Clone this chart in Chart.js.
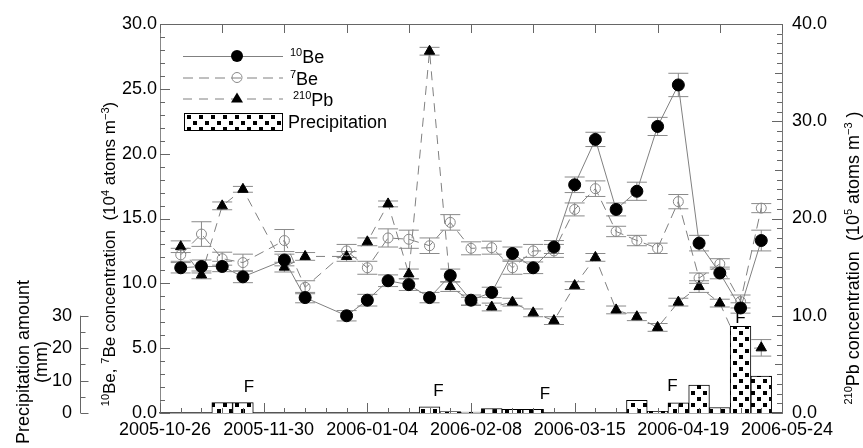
<!DOCTYPE html>
<html lang="en">
<head>
<meta charset="UTF-8">
<title>10Be, 7Be, 210Pb and precipitation</title>
<style>
    body { margin: 0; padding: 0; background: #fff; }
    canvas { display: block; }
</style>
</head>
<body>
<canvas id="chart" width="863" height="448"></canvas>
<script src="https://cdn.jsdelivr.net/npm/chart.js"></script>
<script>
// sampling days, counted from 2005-10-26 (weekly samples)
var sampleDays = [7, 14, 21, 28, 35, 42, 49, 56, 63, 70, 77, 84, 91, 98, 105,
                  112, 119, 126, 133, 140, 147, 154, 161, 168, 175, 182, 189, 196, 203];
var dateLabels = ['2005-10-26', '2005-11-30', '2006-01-04', '2006-02-08',
                  '2006-03-15', '2006-04-19', '2006-05-24'];

// 10Be, 7Be in 10^4 atoms m-3 (left axis)
var be10 = [11.2, 11.3, 11.3, 10.5, null, 11.8, 8.9, null, 7.5, 8.7, 10.2, 9.9, 8.9, 10.6, 8.7,
            9.3, 12.3, 11.2, 12.8, 17.6, 21.1, 15.7, 17.1, 22.1, 25.3, 13.1, 10.8, 8.1, 13.3];
var be10Err = [0.4, 0.5, 0.4, 0.45, null, 0.45, 0.4, null, 0.4, 0.45, 0.45, 0.45, 0.4, 0.5, 0.4,
               0.4, 0.5, 0.45, 0.5, 0.6, 0.55, 0.5, 0.7, 0.7, 0.9, 0.6, 0.45, 0.4, 0.8];
var be7 = [12.2, 13.8, 11.9, 11.6, null, 13.3, 9.7, null, 12.5, 11.2, 13.5, 13.4, 12.9, 14.7, 12.7,
           12.75, 11.2, 12.5, 12.5, 15.7, 17.3, 14.0, 13.3, 12.7, 16.3, 10.4, 11.5, 8.6, 15.8];
var be7Err = [0.5, 0.95, 0.5, 0.65, null, 0.85, 0.5, null, 0.5, 0.5, 0.7, 0.7, 0.6, 0.6, 0.5,
              0.5, 0.5, 0.5, 0.5, 0.5, 0.6, 0.4, 0.4, 0.4, 0.55, 0.4, 0.4, 0.5, 0.35];
// 210Pb in 10^5 atoms m-3 (right axis)
var pb210 = [17.1, 14.2, 21.3, 23.0, null, 15.0, 16.1, null, 16.1, 17.6, 21.5, 14.3, 37.2, 13.0, 11.5,
             10.9, 11.4, 10.3, 9.5, 13.1, 16.0, 10.6, 9.9, 8.8, 11.4, 13.0, 11.3, 6.6, 6.7];
var pb210Err = [0.6, 0.4, 0.4, 0.3, null, 0.5, 0.4, null, 0.5, 0.4, 0.3, 0.5, 0.4, 0.5, 0.4,
                0.4, 0.4, 0.4, 0.4, 0.4, 0.4, 0.4, 0.4, 0.4, 0.4, 0.6, 0.4, 0.4, 0.85];
// precipitation amount, mm
var precip = [null, null, 3.2, 3.2, null, null, null, null, null, null, null, null, 1.9, 0.4, 0.3,
              1.4, 1.1, 1.1, null, null, null, null, 3.9, 0.5, 3.1, 8.6, 1.7, 26.7, 11.4];

// "F" marks (day, height in mm on the precipitation scale)
var fDays = [30, 94, 130, 173, 196];
var fLevels = [8.0, 6.7, 5.8, 8.2, 29.2];

var FONT = '"Liberation Sans", Arial, sans-serif';
Chart.defaults.font.family = FONT;
Chart.defaults.color = '#000';

function toPoints(arr) {
    return sampleDays.map(function (d, i) { return { x: d, y: arr[i] }; });
}

var ctx = document.getElementById('chart').getContext('2d');

function makePattern() {
    var c = document.createElement('canvas');
    c.width = 12; c.height = 12;
    var p = c.getContext('2d');
    p.fillStyle = '#fff';
    p.fillRect(0, 0, 12, 12);
    p.fillStyle = '#000';
    p.fillRect(1, 1, 4, 4);
    p.fillRect(7, 7, 4, 4);
    return ctx.createPattern(c, 'repeat');
}
var dots = makePattern();

// text with superscripts: parts = [[text, isSup], ...]
function richText(c, parts, x, y, size, rotate, align) {
    c.save();
    c.translate(x, y);
    if (rotate) c.rotate(-Math.PI / 2);
    var supSize = Math.round(size * 0.62);
    var total = 0;
    parts.forEach(function (p) {
        c.font = (p[1] ? supSize : size) + 'px ' + FONT;
        total += c.measureText(p[0]).width;
    });
    var cx = align === 'center' ? -total / 2 : 0;
    c.fillStyle = '#000';
    c.textBaseline = 'alphabetic';
    c.textAlign = 'left';
    parts.forEach(function (p) {
        c.font = (p[1] ? supSize : size) + 'px ' + FONT;
        c.fillText(p[0], cx, p[1] ? -size * 0.38 : 0);
        cx += c.measureText(p[0]).width;
    });
    c.restore();
}

function marker(c, style, x, y) {
    c.save();
    c.lineWidth = 1;
    if (style === 'filled') {
        c.fillStyle = '#000';
        c.beginPath(); c.arc(x, y, 6, 0, Math.PI * 2); c.fill();
    } else if (style === 'open') {
        c.strokeStyle = '#888';
        c.beginPath(); c.arc(x, y, 5, 0, Math.PI * 2); c.stroke();
    } else {
        c.fillStyle = '#000';
        c.beginPath();
        c.moveTo(x, y - 6); c.lineTo(x + 6, y + 4); c.lineTo(x - 6, y + 4);
        c.closePath(); c.fill();
    }
    c.restore();
}

var errorBars = {
    id: 'errorBars',
    beforeDatasetsDraw: function (chart) {
        var c = chart.ctx, xs = chart.scales.x;
        var sets = [[be10, be10Err, 'y'], [be7, be7Err, 'y'], [pb210, pb210Err, 'yR']];
        c.save();
        c.strokeStyle = '#8a8a8a';
        c.lineWidth = 1;
        sets.forEach(function (s) {
            var ys = chart.scales[s[2]];
            sampleDays.forEach(function (d, i) {
                if (s[0][i] === null) return;
                var px = xs.getPixelForValue(d);
                var top = ys.getPixelForValue(s[0][i] + s[1][i]);
                var bot = ys.getPixelForValue(s[0][i] - s[1][i]);
                c.beginPath();
                c.moveTo(px, top); c.lineTo(px, bot);
                c.moveTo(px - 10, top); c.lineTo(px + 10, top);
                c.moveTo(px - 10, bot); c.lineTo(px + 10, bot);
                c.stroke();
            });
        });
        c.restore();
    }
};

var decorations = {
    id: 'decorations',
    afterDraw: function (chart) {
        var c = chart.ctx, a = chart.chartArea;
        var xs = chart.scales.x, ys = chart.scales.y, yr = chart.scales.yR, yp = chart.scales.yP;
        var v, len, p;
        c.save();
        c.strokeStyle = '#666';
        c.lineWidth = 1;
        c.beginPath();
        // bottom ticks: weekly minor, 5-weekly major
        for (v = 0; v <= 210; v += 7) {
            p = Math.round(xs.getPixelForValue(v)) + 0.5;
            len = v % 35 === 0 ? 10 : 5;
            c.moveTo(p, a.bottom); c.lineTo(p, a.bottom - len);
        }
        // top ticks
        for (v = 0; v <= 210; v += 21) {
            p = Math.round(xs.getPixelForValue(v)) + 0.5;
            c.moveTo(p, a.top); c.lineTo(p, a.top + 9);
        }
        // left ticks
        for (v = 0; v <= 30; v += 1) {
            p = Math.round(ys.getPixelForValue(v)) + 0.5;
            len = v % 5 === 0 ? 10 : 5;
            c.moveTo(a.left, p); c.lineTo(a.left + len, p);
        }
        // right ticks
        for (v = 0; v <= 40; v += 1) {
            p = Math.round(yr.getPixelForValue(v)) + 0.5;
            len = v % 10 === 0 ? 10 : (v % 5 === 0 ? 7 : 5);
            c.moveTo(a.right, p); c.lineTo(a.right - len, p);
        }
        // precipitation axis
        var px = Math.round(yp.right) + 0.5;
        c.moveTo(px, yp.getPixelForValue(0)); c.lineTo(px, yp.getPixelForValue(30));
        for (v = 0; v <= 30; v += 5) {
            p = Math.round(yp.getPixelForValue(v)) + 0.5;
            len = v % 10 === 0 ? 8 : 5;
            c.moveTo(px, p); c.lineTo(px + len, p);
        }
        c.stroke();

        // "F" marks
        c.fillStyle = '#000';
        c.font = '17px ' + FONT;
        c.textAlign = 'center';
        c.textBaseline = 'middle';
        fDays.forEach(function (d, i) {
            c.fillText('F', xs.getPixelForValue(d), yp.getPixelForValue(fLevels[i]));
        });

        // legend
        var lx0 = a.left + 23, lx1 = a.left + 123, mx = a.left + 77, tx = a.left + 130;
        var rows = [a.top + 32, a.top + 53.5, a.top + 74.5];
        var dashes = [[], [10, 6], [9, 7]];
        var styles = ['filled', 'open', 'tri'];
        var names = [[['10', 1], ['Be', 0]], [['7', 1], ['Be', 0]], [['210', 1], ['Pb', 0]]];
        rows.forEach(function (ry, i) {
            c.save();
            c.strokeStyle = '#808080';
            c.setLineDash(dashes[i]);
            c.beginPath(); c.moveTo(lx0, ry + 0.5); c.lineTo(lx1, ry + 0.5); c.stroke();
            c.restore();
            marker(c, styles[i], mx, ry);
            richText(c, names[i], tx + (i === 2 ? 3 : 0), ry + 7, 18, false, 'left');
        });
        var by = a.top + 89;
        c.fillStyle = dots;
        c.fillRect(lx0 + 1, by, 99, 17);
        c.strokeStyle = '#000';
        c.strokeRect(lx0 + 1.5, by + 0.5, 98, 17);
        richText(c, [['Precipitation', 0]], tx - 2, by + 15, 18, false, 'left');

        // axis titles
        richText(c, [['10', 1], ['Be, ', 0], ['7', 1], ['Be concentration  (10', 0], ['4', 1],
                     [' atoms m', 0], ['\u22123', 1], [')', 0]], 115, 254, 17, true, 'center');
        richText(c, [['210', 1], ['Pb concentration  (10', 0], ['5', 1], [' atoms m', 0],
                     ['\u22123', 1], [' )', 0]], 859, 258, 18, true, 'center');
        richText(c, [['Precipitation amount', 0]], 29, 362, 18, true, 'center');
        richText(c, [['(mm)', 0]], 47, 362, 18, true, 'center');
        c.restore();
    }
};

new Chart(ctx, {
    data: {
        datasets: [
            {
                type: 'bar',
                label: 'Precipitation',
                data: toPoints(precip),
                xAxisID: 'x',
                yAxisID: 'yP',
                backgroundColor: dots,
                borderColor: '#000',
                borderWidth: 1,
                barPercentage: 1,
                categoryPercentage: 1,
                order: 0
            },
            {
                type: 'line',
                label: '10Be',
                data: toPoints(be10),
                xAxisID: 'x',
                yAxisID: 'y',
                borderColor: '#808080',
                borderWidth: 1,
                pointStyle: 'circle',
                pointRadius: 6,
                pointBackgroundColor: '#000',
                pointBorderColor: '#000',
                spanGaps: true,
                order: 1
            },
            {
                type: 'line',
                label: '7Be',
                data: toPoints(be7),
                xAxisID: 'x',
                yAxisID: 'y',
                borderColor: '#808080',
                borderWidth: 1,
                borderDash: [10, 6],
                pointStyle: 'circle',
                pointRadius: 5,
                pointBackgroundColor: 'rgba(0,0,0,0)',
                pointBorderColor: '#888',
                pointBorderWidth: 1,
                spanGaps: true,
                order: 2
            },
            {
                type: 'line',
                label: '210Pb',
                data: toPoints(pb210),
                xAxisID: 'x',
                yAxisID: 'yR',
                borderColor: '#808080',
                borderWidth: 1,
                borderDash: [9, 7],
                pointStyle: 'triangle',
                pointRadius: 6,
                pointBackgroundColor: '#000',
                pointBorderColor: '#000',
                spanGaps: true,
                order: 3
            }
        ]
    },
    options: {
        responsive: false,
        animation: false,
        layout: { padding: 0 },
        plugins: { legend: { display: false }, tooltip: { enabled: false } },
        scales: {
            x: {
                type: 'linear', position: 'bottom', min: 0, max: 210, offset: false,
                ticks: {
                    stepSize: 35, autoSkip: false, maxRotation: 0, labelOffset: 5, padding: 6,
                    font: { size: 18 },
                    callback: function (v) { return dateLabels[Math.round(v / 35)]; }
                },
                grid: { display: false, drawTicks: false, offset: false },
                border: { color: '#555', width: 1.5 },
                afterFit: function (s) { s.height = 35; }
            },
            xTop: {
                type: 'linear', position: 'top', min: 0, max: 210, offset: false,
                ticks: { display: false },
                grid: { display: false, drawTicks: false },
                border: { color: '#666' },
                afterFit: function (s) { s.height = 24; }
            },
            y: {
                position: 'left', min: 0, max: 30, weight: 0,
                ticks: { stepSize: 5, padding: 3, font: { size: 18 },
                         callback: function (v) { return v.toFixed(1); } },
                grid: { display: false, drawTicks: false },
                border: { color: '#888' },
                afterFit: function (s) { s.width = 80; }
            },
            yP: {
                position: 'left', min: 0, max: 120, weight: 1,
                ticks: { stepSize: 10, padding: 8, font: { size: 18 },
                         callback: function (v) { return v <= 30 ? String(v) : ''; } },
                grid: { display: false, drawTicks: false },
                border: { display: false },
                afterFit: function (s) { s.width = 80; }
            },
            yR: {
                position: 'right', min: 0, max: 40,
                ticks: { stepSize: 10, padding: 10, font: { size: 18 },
                         callback: function (v) { return v.toFixed(1); } },
                grid: { display: false, drawTicks: false },
                border: { color: '#777' },
                afterFit: function (s) { s.width = 81; }
            }
        }
    },
    plugins: [errorBars, decorations]
});
</script>
</body>
</html>
